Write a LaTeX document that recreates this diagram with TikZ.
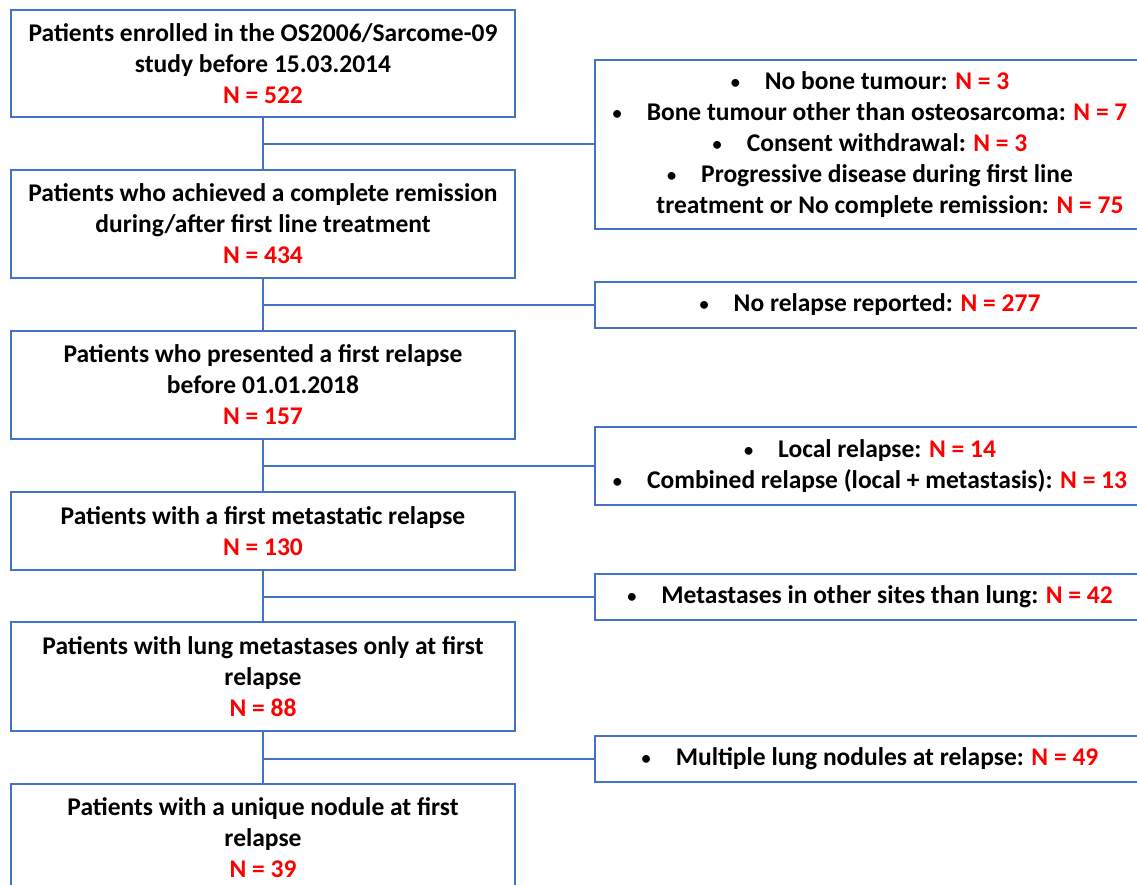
\documentclass[tikz,border=0pt]{standalone}
\usepackage{fontspec}
\setmainfont{Carlito}
\definecolor{lineblue}{HTML}{4472C4}
\definecolor{nred}{HTML}{FF0000}
\newcommand{\nval}[1]{\textcolor{nred}{#1}}
\newcommand{\bul}{\raisebox{0.05em}{\scalebox{0.72}{\textbullet}}\hspace{25pt}}
\begin{document}
\begin{tikzpicture}[x=1pt,y=-1pt,
  mainbox/.style={draw=lineblue, line width=2pt, minimum width=504pt, align=center,
    font=\fontsize{25.5}{31}\selectfont\bfseries, inner sep=0pt},
  sidebox/.style={draw=lineblue, line width=2pt, minimum width=550pt, align=center,
    font=\fontsize{25.5}{31}\selectfont\bfseries, inner sep=0pt},
  link/.style={draw=lineblue, line width=2pt}]
\useasboundingbox (0,0) rectangle (1137,885);
\fill[white] (0,0) rectangle (1137,885);
% main boxes
\node[mainbox, minimum height=107pt] (b1) at (263,63.5)
  {Patients enrolled in the OS2006/Sarcome-09\\study before 15.03.2014\\\nval{N = 522}};
\node[mainbox, minimum height=108pt] (b2) at (263,224)
  {Patients who achieved a complete remission\\during/after first line treatment\\\nval{N = 434}};
\node[mainbox, minimum height=108pt] (b3) at (263,385)
  {Patients who presented a first relapse\\before 01.01.2018\\\nval{N = 157}};
\node[mainbox, minimum height=78pt] (b4) at (263,531)
  {Patients with a first metastatic relapse\\\nval{N = 130}};
\node[mainbox, minimum height=109pt] (b5) at (263,676.5)
  {Patients with lung metastases only at first\\relapse\\\nval{N = 88}};
\node[mainbox, minimum height=108pt] (b6) at (263,837.5)
  {Patients with a unique nodule at first\\relapse\\\nval{N = 39}};
% side boxes
\node[sidebox, minimum height=169pt] (s1) at (870,144.5)
  {\bul No bone tumour: \nval{N = 3}\\
   \bul Bone tumour other than osteosarcoma: \nval{N = 7}\\
   \bul Consent withdrawal: \nval{N = 3}\\
   \bul Progressive disease during first line\\
   \hspace{40pt}treatment or No complete remission: \nval{N = 75}};
\node[sidebox, minimum height=46pt] (s2) at (870,305)
  {\bul No relapse reported: \nval{N = 277}};
\node[sidebox, minimum height=78pt] (s3) at (870,466)
  {\bul Local relapse: \nval{N = 14}\\
   \bul Combined relapse (local + metastasis): \nval{N = 13}};
\node[sidebox, minimum height=46pt] (s4) at (870,597)
  {\bul Metastases in other sites than lung: \nval{N = 42}};
\node[sidebox, minimum height=46pt] (s5) at (870,759)
  {\bul Multiple lung nodules at relapse: \nval{N = 49}};
% connectors
\foreach \a/\b in {b1/b2,b2/b3,b3/b4,b4/b5,b5/b6}
  \draw[link] (\a.south) -- (\b.north);
\foreach \a/\s in {b1/s1,b2/s2,b3/s3,b4/s4,b5/s5}
  \draw[link] (\a.south |- \s.west) -- (\s.west);
\end{tikzpicture}
\end{document}
